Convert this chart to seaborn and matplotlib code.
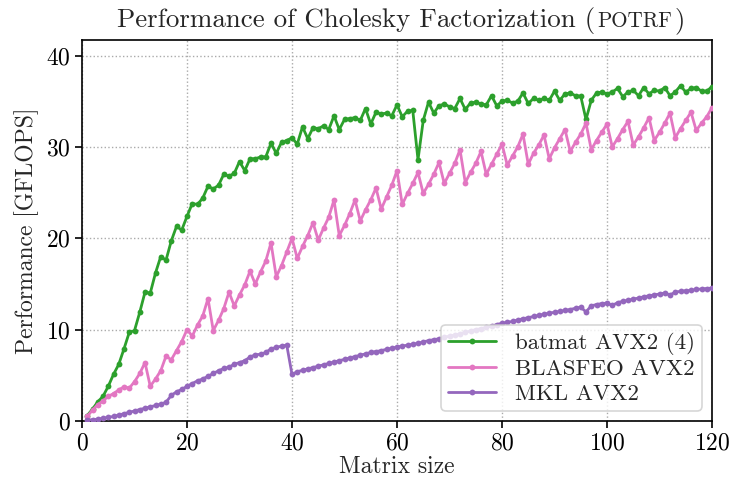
import numpy as np
import pandas as pd
import matplotlib
matplotlib.use("Agg")
import matplotlib.pyplot as plt
import seaborn as sns

matrix_size = list(range(1, 121))

batmat_avx2 = [
    0.6, 1.3, 2.1, 2.7, 3.8, 5.1, 6.2, 7.9, 9.7, 9.9,
    11.9, 14.1, 14.0, 16.2, 18.0, 17.6, 19.7, 21.3, 20.9, 22.4,
    23.8, 23.7, 24.4, 25.7, 25.4, 25.8, 27.0, 26.8, 27.1, 28.4,
    27.4, 28.7, 28.7, 28.9, 28.9, 30.4, 29.3, 30.5, 30.7, 31.0,
    30.3, 32.2, 30.9, 32.1, 32.0, 32.3, 31.9, 33.4, 31.9, 33.0,
    33.1, 33.2, 32.9, 34.2, 32.5, 33.8, 33.6, 33.7, 33.4, 34.6,
    33.3, 33.9, 34.0, 28.6, 32.9, 34.9, 33.7, 34.5, 34.7, 34.4,
    34.2, 35.3, 34.1, 34.8, 34.9, 34.7, 34.6, 35.6, 34.5, 35.0,
    35.1, 34.8, 35.0, 35.9, 34.75, 35.3, 35.1, 35.3, 35.1, 36.1,
    35.1, 35.8, 35.9, 35.6, 35.55, 33.0, 35.1, 35.9, 36.0, 35.8,
    36.0, 36.4, 35.5, 36.0, 36.2, 35.6, 36.5, 35.8, 36.2, 36.1,
    36.5, 35.6, 36.0, 36.7, 36.0, 36.4, 36.5, 36.1, 36.1, 36.6,
]

blasfeo_avx2 = [
    0.5, 1.2, 1.8, 2.2, 2.7, 3.0, 3.4, 3.75, 3.6, 4.3,
    5.2, 6.4, 3.8, 4.6, 5.5, 7.1, 6.7, 7.7, 8.7, 10.0,
    9.3, 10.5, 11.5, 13.4, 9.9, 11.0, 12.3, 14.1, 12.6, 13.8,
    14.9, 16.4, 15.0, 16.3, 17.5, 19.5, 15.8, 17.0, 18.5, 20.0,
    17.8, 19.1, 20.3, 21.7, 19.8, 21.1, 22.3, 24.2, 20.3, 21.4,
    22.7, 24.2, 21.9, 23.1, 24.2, 25.5, 23.2, 24.5, 25.8, 27.4,
    23.7, 24.9, 26.0, 27.2, 24.9, 25.9, 27.0, 28.3, 26.0, 27.1,
    28.2, 29.7, 26.1, 27.2, 28.2, 29.5, 27.0, 28.1, 29.2, 30.3,
    28.0, 29.0, 30.0, 31.4, 28.1, 29.3, 30.2, 31.3, 28.7, 29.9,
    30.9, 31.9, 29.5, 30.5, 31.4, 32.6, 29.7, 30.7, 31.6, 32.5,
    30.0, 30.9, 31.9, 32.8, 30.2, 31.1, 32.1, 33.2, 30.7, 31.6,
    32.6, 33.7, 31.0, 32.0, 32.9, 33.8, 31.8, 32.6, 33.3, 34.3,
]

mkl_avx2 = [
    0.1, 0.15, 0.2, 0.3, 0.4, 0.5, 0.65, 0.8, 0.95, 1.1,
    1.25, 1.4, 1.55, 1.7, 1.85, 2.05, 2.8, 3.2, 3.45, 3.8,
    4.1, 4.4, 4.6, 4.9, 5.2, 5.5, 5.75, 5.9, 6.2, 6.4,
    6.6, 7.0, 7.25, 7.3, 7.5, 7.9, 8.05, 8.2, 8.3, 5.1,
    5.4, 5.55, 5.7, 5.85, 6.0, 6.15, 6.3, 6.45, 6.6, 6.75,
    6.9, 7.05, 7.2, 7.35, 7.5, 7.6, 7.7, 7.85, 7.95, 8.1,
    8.2, 8.3, 8.4, 8.5, 8.65, 8.8, 8.9, 9.0, 9.15, 9.3,
    9.4, 9.55, 9.7, 9.85, 10.0, 10.1, 10.25, 10.4, 10.55, 10.7,
    10.8, 10.9, 11.05, 11.2, 11.3, 11.45, 11.55, 11.7, 11.8, 11.9,
    12.0, 12.1, 12.2, 12.35, 12.45, 11.95, 12.6, 12.75, 12.85, 12.9,
    12.65, 12.95, 13.1, 13.2, 13.35, 13.45, 13.6, 13.7, 13.8, 13.9,
    14.0, 13.8, 14.1, 14.2, 14.25, 14.3, 14.4, 14.45, 14.5, 14.55,
]

series_names = ["batmat AVX2 (4)", "BLASFEO AVX2", "MKL AVX2"]
series_colors = ["#2ca02c", "#e377c2", "#9467bd"]
series_values = [batmat_avx2, blasfeo_avx2, mkl_avx2]

title_main = "Performance of Cholesky Factorization ("
title_sc = "POTRF"
title_end = ")"
x_label = "Matrix size"
y_label = "Performance [GFLOPS]"
x_ticks = [0, 20, 40, 60, 80, 100, 120]
y_ticks = [0, 10, 20, 30, 40]

frames = []
for name, vals in zip(series_names, series_values):
    frames.append(pd.DataFrame({"n": matrix_size, "gflops": vals, "impl": name}))
df = pd.concat(frames, ignore_index=True)

sns.set_style("ticks")
plt.rcParams["font.family"] = "serif"
plt.rcParams["font.serif"] = ["cmr10", "DejaVu Serif"]
plt.rcParams["mathtext.fontset"] = "cm"
plt.rcParams["axes.formatter.use_mathtext"] = True
plt.rcParams["axes.unicode_minus"] = False

FS = 17
LFS = 16.5
TFS = 19.4
fig = plt.figure(figsize=(7.32, 4.86), dpi=100)
ax = fig.add_axes([82 / 732, 1 - 421 / 486, 630 / 732, 381 / 486])

sns.lineplot(data=df, x="n", y="gflops", hue="impl", hue_order=series_names,
             palette=dict(zip(series_names, series_colors)), marker="o",
             markersize=4.2, markeredgewidth=0, linewidth=2, ax=ax, zorder=3)

ax.set_xlim(0, 120)
ax.set_ylim(0, 41.7)
ax.set_xticks(x_ticks)
ax.set_yticks(y_ticks)
ax.grid(True, linestyle=":", color="#aaaaaa", linewidth=1.0)
ax.set_axisbelow(True)
for s in ax.spines.values():
    s.set_visible(True)
    s.set_linewidth(1.2)
    s.set_color("black")
ax.tick_params(direction="out", length=5, width=1.2, labelsize=FS, colors="black", pad=3)
ax.set_xlabel(x_label, fontsize=FS, labelpad=1)
ax.set_ylabel(y_label, fontsize=FS, labelpad=5)

leg = ax.legend(loc="lower right", fontsize=LFS, framealpha=0.8, edgecolor="#cccccc",
                fancybox=True, handlelength=2.1, handletextpad=0.8, borderpad=0.3,
                labelspacing=0.2, borderaxespad=0.45)
leg.set_zorder(5)
leg.get_frame().set_linewidth(1.2)

# Title with small caps part
fig.canvas.draw()
renderer = fig.canvas.get_renderer()
ty = 1 - 27 / 486
t1 = fig.text(0, ty, title_main, fontsize=TFS, ha="left", va="baseline")
t2 = fig.text(0, ty, title_sc, fontsize=TFS * 0.78, ha="left", va="baseline")
t3 = fig.text(0, ty, title_end, fontsize=TFS, ha="left", va="baseline")
w1 = t1.get_window_extent(renderer).width
w2 = t2.get_window_extent(renderer).width
w3 = t3.get_window_extent(renderer).width
gap = 2
total = w1 + w2 + w3 + 2 * gap
cx = 401
x0 = cx - total / 2
t1.set_x(x0 / 732)
t2.set_x((x0 + w1 + gap) / 732)
t3.set_x((x0 + w1 + w2 + 2 * gap) / 732)

fig.savefig("out.png", dpi=100)
